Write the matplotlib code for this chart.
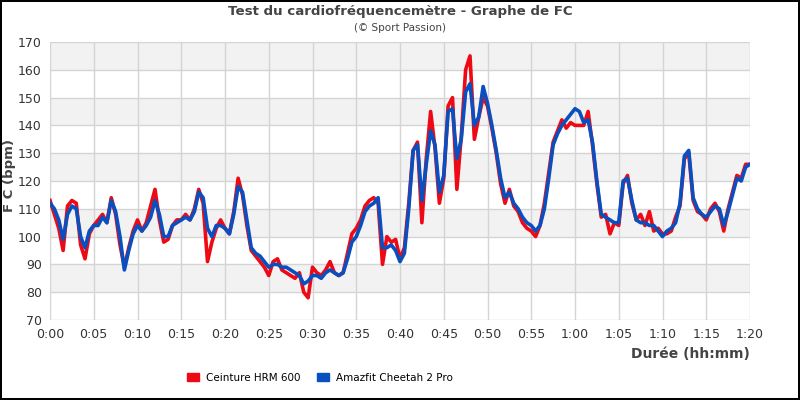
import numpy as np
import matplotlib.pyplot as plt
from matplotlib.patches import Patch

# heart rate, one reading every 30 s (minutes 0 .. 80)
minutes = np.arange(0, 80.5, 0.5)

ceinture = [113, 108, 103, 95, 111, 113, 112, 97, 92, 101,
            104, 106, 108, 105, 114, 108, 97, 89, 96, 102,
            106, 102, 105, 111, 117, 106, 98, 99, 104, 106,
            106, 108, 106, 110, 117, 112, 91, 98, 103, 106,
            103, 101, 109, 121, 115, 104, 95, 93, 91, 89,
            86, 91, 92, 88, 87, 86, 85, 87, 80, 78,
            89, 87, 86, 88, 91, 87, 86, 87, 94, 101,
            103, 106, 111, 113, 114, 112, 90, 100, 98, 99,
            92, 96, 112, 131, 134, 105, 128, 145, 132, 112,
            121, 147, 150, 117, 136, 160, 165, 135, 143, 150,
            147, 139, 130, 119, 112, 117, 111, 109, 105, 103,
            102, 100, 104, 112, 123, 134, 138, 142, 139, 141,
            140, 140, 140, 145, 133, 119, 107, 108, 101, 105,
            104, 119, 122, 112, 106, 108, 104, 109, 102, 103,
            101, 101, 102, 107, 111, 128, 130, 113, 109, 108,
            106, 110, 112, 109, 102, 110, 116, 122, 121, 126,
            126]

amazfit = [112, 110, 106, 99, 108, 111, 110, 100, 96, 102,
           104, 104, 107, 105, 113, 109, 100, 88, 95, 101,
           104, 102, 104, 107, 113, 108, 100, 100, 104, 105,
           106, 107, 106, 109, 116, 114, 103, 100, 104, 104,
           103, 101, 108, 118, 116, 106, 96, 94, 93, 91,
           89, 90, 90, 89, 89, 88, 87, 86, 83, 84,
           86, 86, 85, 87, 88, 87, 86, 87, 92, 98,
           100, 104, 109, 111, 112, 114, 96, 96, 97, 95,
           91, 94, 110, 131, 133, 113, 126, 138, 133, 116,
           122, 145, 146, 128, 135, 152, 155, 140, 143, 154,
           148, 140, 131, 121, 114, 116, 112, 110, 107, 105,
           104, 102, 104, 110, 121, 133, 137, 140, 142, 144,
           146, 145, 141, 142, 134, 120, 108, 107, 106, 105,
           105, 120, 121, 113, 106, 105, 105, 104, 104, 102,
           100, 102, 103, 105, 112, 129, 131, 114, 110, 108,
           107, 109, 111, 110, 104, 109, 115, 121, 120, 125,
           126]

series_names = ["Ceinture HRM 600", "Amazfit Cheetah 2 Pro"]
series_colors = ["#ee0a14", "#0a4fc0"]

x_ticks = np.arange(0, 81, 5)
x_labels = ["%d:%02d" % (m // 60, m % 60) for m in x_ticks]
y_ticks = np.arange(70, 171, 10)

fig = plt.figure(figsize=(8, 4), dpi=100, facecolor="white",
                 edgecolor="black", linewidth=1.5)
ax = fig.add_axes([0.0625, 0.2, 0.875, 0.695])

# alternating grey bands
for i, lo in enumerate(y_ticks[:-1]):
    if i % 2 == 1:
        ax.axhspan(lo, lo + 10, color="#f2f2f2", zorder=0, lw=0)

ax.plot(minutes, ceinture, color=series_colors[0], lw=2.6, zorder=3)
ax.plot(minutes, amazfit, color=series_colors[1], lw=2.6, zorder=4)

ax.set_xlim(0, 80)
ax.set_ylim(70, 170)
ax.set_xticks(x_ticks)
ax.set_xticklabels(x_labels)
ax.set_yticks(y_ticks)
ax.grid(True, color="#d4d4d4", lw=1, zorder=1)
ax.set_axisbelow(True)
for s in ax.spines.values():
    s.set_visible(False)
ax.tick_params(length=0, labelsize=9, colors="#333333", pad=6)

fig.text(0.012, 0.56, "F C (bpm)", rotation=90, ha="center", va="center",
         fontsize=9.5, fontweight="bold", color="#444444")
ax.set_xlabel("Durée (hh:mm)", fontsize=10, fontweight="bold", color="#444444",
              loc="right", labelpad=4)

fig.text(0.5, 0.972, "Test du cardiofréquencemètre - Graphe de FC", ha="center",
         va="center", fontsize=9.6, fontweight="bold", color="#444444")
fig.text(0.5, 0.93, "(© Sport Passion)", ha="center", va="center",
         fontsize=7.5, color="#444444")

handles = [Patch(facecolor=c, edgecolor=c) for c in series_colors]
fig.legend(handles, series_names, loc="center", bbox_to_anchor=(0.4, 0.055),
           ncol=2, frameon=False, fontsize=7.5, handlelength=1.2, handleheight=0.8,
           columnspacing=1.5, handletextpad=0.7)

fig.savefig("out.png", dpi=100, edgecolor=fig.get_edgecolor())
